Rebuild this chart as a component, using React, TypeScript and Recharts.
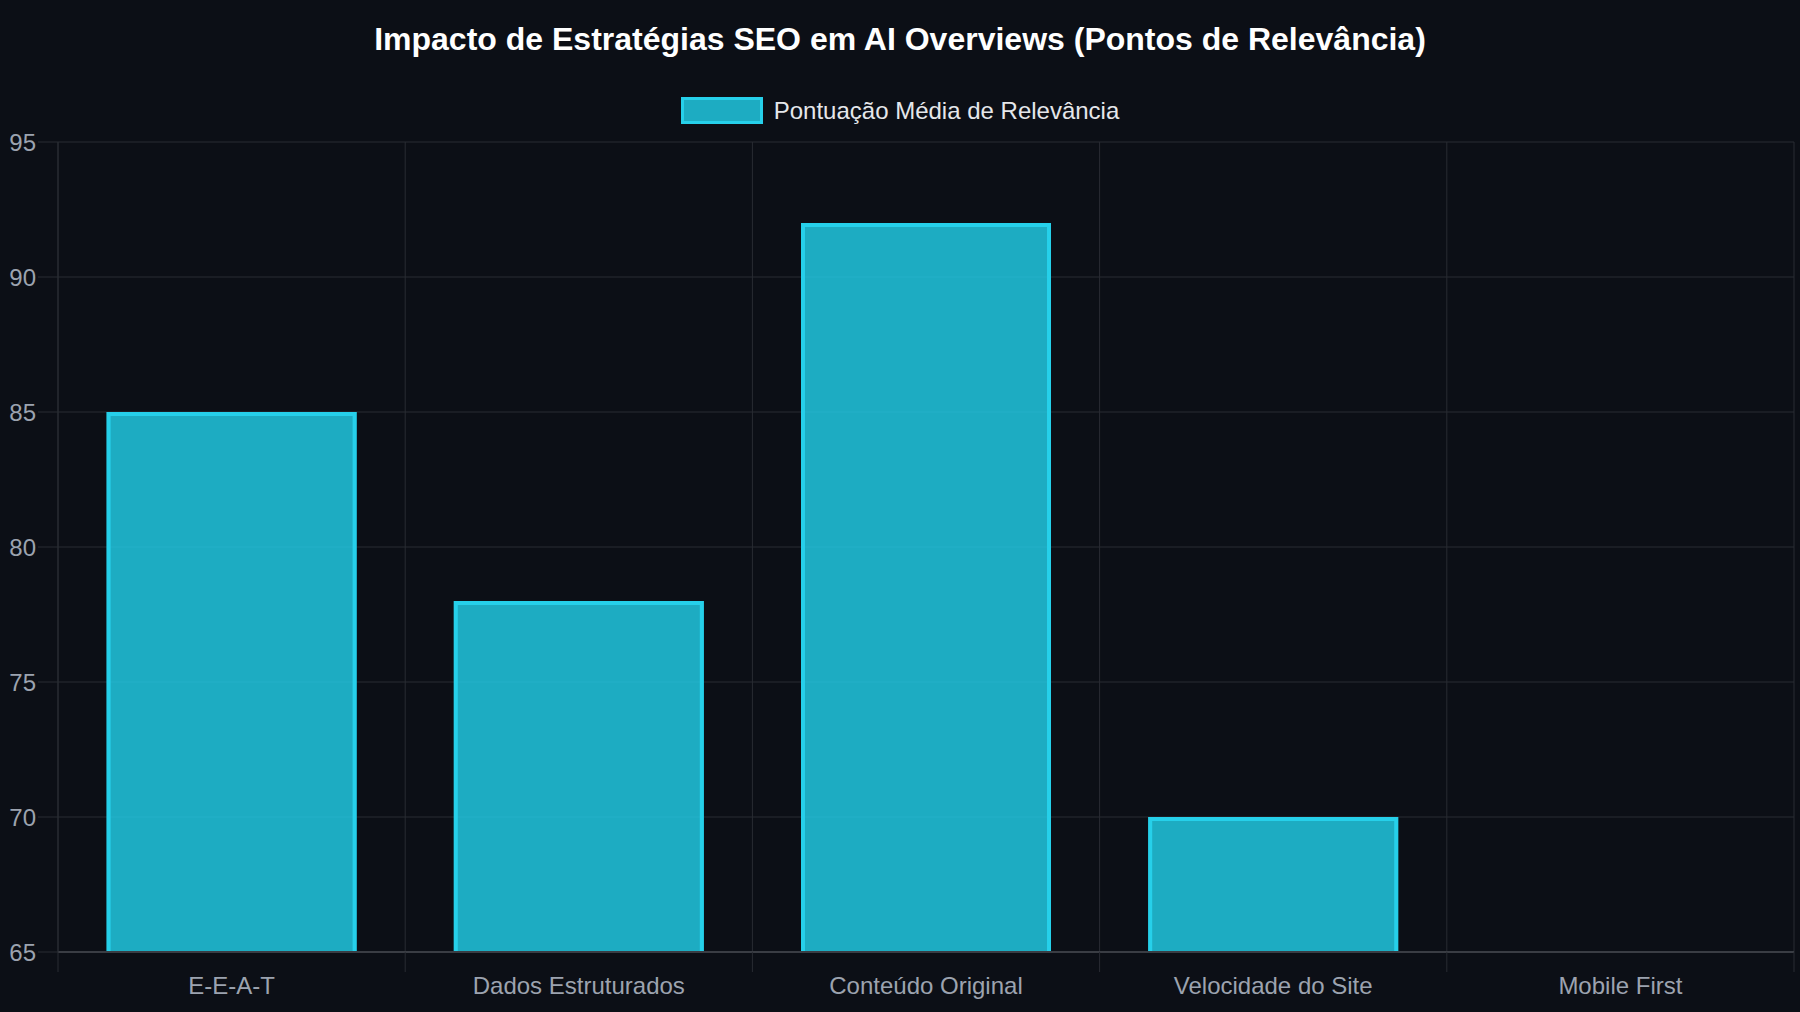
import { Bar, BarChart, CartesianGrid, XAxis, YAxis } from "recharts";

const categories = [
  "E-E-A-T",
  "Dados Estruturados",
  "Conteúdo Original",
  "Velocidade do Site",
  "Mobile First",
];
const scores = [85, 78, 92, 70, 65];
const yTicks = [65, 70, 75, 80, 85, 90, 95];

const data = categories.map((name, i) => ({ name, score: scores[i] }));

const W = 1800;
const H = 1012;
const MARGIN = { top: 142, right: 6, bottom: 0, left: 0 };
const Y_AXIS_W = 58;
const X_AXIS_H = 60;
const STEP = (W - MARGIN.left - MARGIN.right - Y_AXIS_W) / categories.length;

const BG = "#0c0f16";
const GRID = "#292c33";
const AXIS = "#3a3d44";
const TICK_TEXT = "#9ca3af";
const BAR_FILL = "rgba(34, 211, 238, 0.8)";
const BAR_BORDER = "#26d0ea";
const FONT = "'Liberation Sans', Arial, Helvetica, sans-serif";

// chart.js-style bar: border on top and sides only
function OutlinedBar(props: any) {
  const { x, y, width, height } = props;
  if (!height || height <= 0) return null;
  const b = 4;
  const h = b / 2;
  return (
    <g>
      <rect x={x} y={y} width={width} height={height} fill={BAR_FILL} />
      <path
        d={`M${x + h},${y + height} V${y + h} H${x + width - h} V${y + height}`}
        fill="none"
        stroke={BAR_BORDER}
        strokeWidth={b}
      />
    </g>
  );
}

// label plus a tick mark at each category boundary
function CategoryTick(props: any) {
  const { x, y, payload, index } = props;
  const half = STEP / 2;
  return (
    <g>
      <line x1={x - half} x2={x - half} y1={y} y2={y + 20} stroke={GRID} />
      {index === categories.length - 1 && (
        <line x1={x + half} x2={x + half} y1={y} y2={y + 20} stroke={GRID} />
      )}
      <text x={x} y={y + 42} textAnchor="middle" fill={TICK_TEXT} fontSize={24}>
        {payload.value}
      </text>
    </g>
  );
}

export default function App() {
  return (
    <div
      style={{
        position: "absolute",
        left: 0,
        top: 0,
        width: W,
        height: H,
        background: BG,
        fontFamily: FONT,
        overflow: "hidden",
      }}
    >
      <div
        style={{
          position: "absolute",
          top: 20,
          left: 0,
          width: W,
          textAlign: "center",
          fontSize: 32,
          lineHeight: "38px",
          fontWeight: 700,
          color: "#ffffff",
        }}
      >
        Impacto de Estratégias SEO em AI Overviews (Pontos de Relevância)
      </div>
      <div
        style={{
          position: "absolute",
          top: 97,
          left: 0,
          width: W,
          display: "flex",
          justifyContent: "center",
          alignItems: "center",
          gap: 11,
          fontSize: 24,
          lineHeight: "27px",
          color: "#e5e7eb",
        }}
      >
        <span
          style={{
            display: "inline-block",
            width: 76,
            height: 21,
            background: BAR_FILL,
            border: `3px solid ${BAR_BORDER}`,
          }}
        />
        <span>Pontuação Média de Relevância</span>
      </div>
      <BarChart
        width={W}
        height={H}
        data={data}
        margin={MARGIN}
        barCategoryGap="14%"
        style={{ position: "absolute", left: 0, top: 0 }}
      >
        <CartesianGrid
          stroke={GRID}
          verticalCoordinatesGenerator={({ offset }: any) =>
            categories.map((_, i) => offset.left + i * STEP).concat(offset.left + offset.width)
          }
        />
        <XAxis
          dataKey="name"
          height={X_AXIS_H}
          axisLine={{ stroke: AXIS, strokeWidth: 2 }}
          tickLine={false}
          tickSize={0}
          tickMargin={0}
          tick={<CategoryTick />}
          interval={0}
        />
        <YAxis
          width={Y_AXIS_W}
          domain={[65, 95]}
          ticks={yTicks}
          allowDataOverflow
          axisLine={{ stroke: GRID }}
          tickLine={{ stroke: GRID }}
          tickSize={20}
          tickMargin={2}
          tick={{ fill: TICK_TEXT, fontSize: 24 }}
        />
        <Bar dataKey="score" shape={<OutlinedBar />} isAnimationActive={false} />
      </BarChart>
    </div>
  );
}
